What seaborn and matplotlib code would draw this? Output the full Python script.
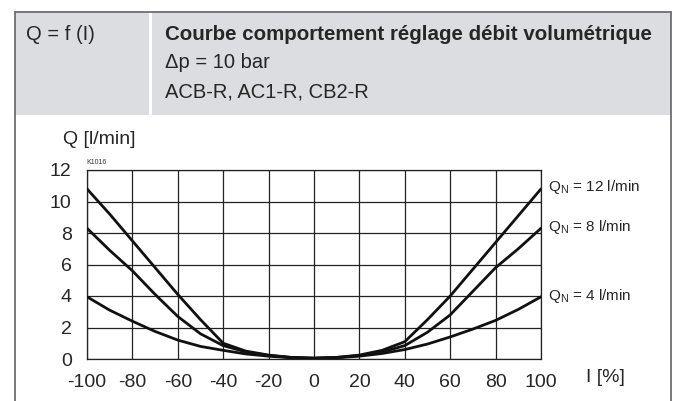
import numpy as np
import pandas as pd
import seaborn as sns
import matplotlib.pyplot as plt
from matplotlib.patches import Rectangle
from matplotlib.lines import Line2D

# current I [%]
current = [-100, -90, -80, -70, -60, -50, -40, -30, -20, -10, 0,
           10, 20, 30, 40, 50, 60, 70, 80, 90, 100]
# flow Q [l/min] for each nominal flow
q12 = [10.8, 9.2, 7.5, 5.8, 4.1, 2.5, 1.0, 0.5, 0.25, 0.1, 0.05,
       0.1, 0.25, 0.55, 1.1, 2.5, 4.0, 5.7, 7.4, 9.1, 10.8]
q8 = [8.3, 6.9, 5.6, 4.1, 2.7, 1.6, 0.85, 0.45, 0.22, 0.1, 0.05,
      0.1, 0.22, 0.45, 0.85, 1.7, 2.8, 4.3, 5.8, 7.0, 8.3]
q4 = [3.95, 3.1, 2.4, 1.75, 1.2, 0.8, 0.55, 0.32, 0.18, 0.08, 0.05,
      0.08, 0.18, 0.35, 0.6, 0.95, 1.4, 1.9, 2.45, 3.15, 3.95]
series_labels = ['12 l/min', '8 l/min', '4 l/min']
label_y = [10.9, 8.4, 4.0]
x_ticks = [-100, -80, -60, -40, -20, 0, 20, 40, 60, 80, 100]
y_ticks = [0, 2, 4, 6, 8, 10, 12]

df = pd.concat([
    pd.DataFrame({'I': current, 'Q': q, 'QN': name})
    for q, name in zip([q12, q8, q4], series_labels)
])

sns.set_style('white')
plt.rcParams['font.family'] = ['Liberation Sans', 'DejaVu Sans']

W, H = 678, 401
fig = plt.figure(figsize=(W / 100, H / 100), dpi=100)

# frame and header band
fig.patches.append(Rectangle((15 / W, 1 - 115 / H), 656 / W, 103 / H,
                             transform=fig.transFigure, facecolor='#dcdde0',
                             edgecolor='none', zorder=0))
fig.patches.append(Rectangle((149 / W, 1 - 115 / H), 3 / W, 103 / H,
                             transform=fig.transFigure, facecolor='white',
                             edgecolor='none', zorder=1))
for xs, ys in [([15, 15], [12, 401]), ([671, 671], [12, 401]), ([15, 671], [12, 12])]:
    fig.lines.append(Line2D([v / W for v in xs], [1 - v / H for v in ys],
                            transform=fig.transFigure, color='#6e6e6e', lw=1.3))

fig.text(26 / W, 1 - 34 / H, 'Q = f (I)', fontsize=14.5, va='center')
fig.text(165 / W, 1 - 34 / H, 'Courbe comportement réglage débit volumétrique',
         fontsize=14.8, fontweight='bold', va='center')
fig.text(165 / W, 1 - 63 / H, 'Δp = 10 bar', fontsize=14.5, va='center')
fig.text(165 / W, 1 - 92 / H, 'ACB-R, AC1-R, CB2-R', fontsize=14.5, va='center')

ax = fig.add_axes([87 / W, (H - 359) / H, 454 / W, 189 / H])
sns.lineplot(data=df, x='I', y='Q', hue='QN', palette=['#111111'] * 3,
             legend=False, lw=2, ax=ax, zorder=3)
ax.set_xlim(-100, 100)
ax.set_ylim(0, 12)
ax.set_xticks(x_ticks)
ax.set_yticks(y_ticks)
ax.set_xticklabels([str(v) for v in x_ticks], fontsize=14)
ax.set_yticklabels([str(v) for v in y_ticks], fontsize=14)
ax.tick_params(length=0)
ax.tick_params(axis='x', pad=10.5)
ax.tick_params(axis='y', pad=11)
ax.grid(True, color='#222222', lw=0.9)
for s in ax.spines.values():
    s.set_color('#222222')
    s.set_linewidth(0.9)
ax.set_xlabel('')
ax.set_ylabel('')

for name, y in zip(series_labels, label_y):
    ax.text(103, y, r'Q$_\mathregular{N}$ = ' + name, fontsize=11, va='center',
            clip_on=False)

fig.text(63 / W, 1 - 139 / H, 'Q [l/min]', fontsize=14, va='center')
fig.text(86 / W, 1 - 163 / H, 'K1016', fontsize=5, va='center', color='#333333')
fig.text(586 / W, 1 - 378 / H, 'I [%]', fontsize=14, va='center')

fig.savefig('out.png', dpi=100)
